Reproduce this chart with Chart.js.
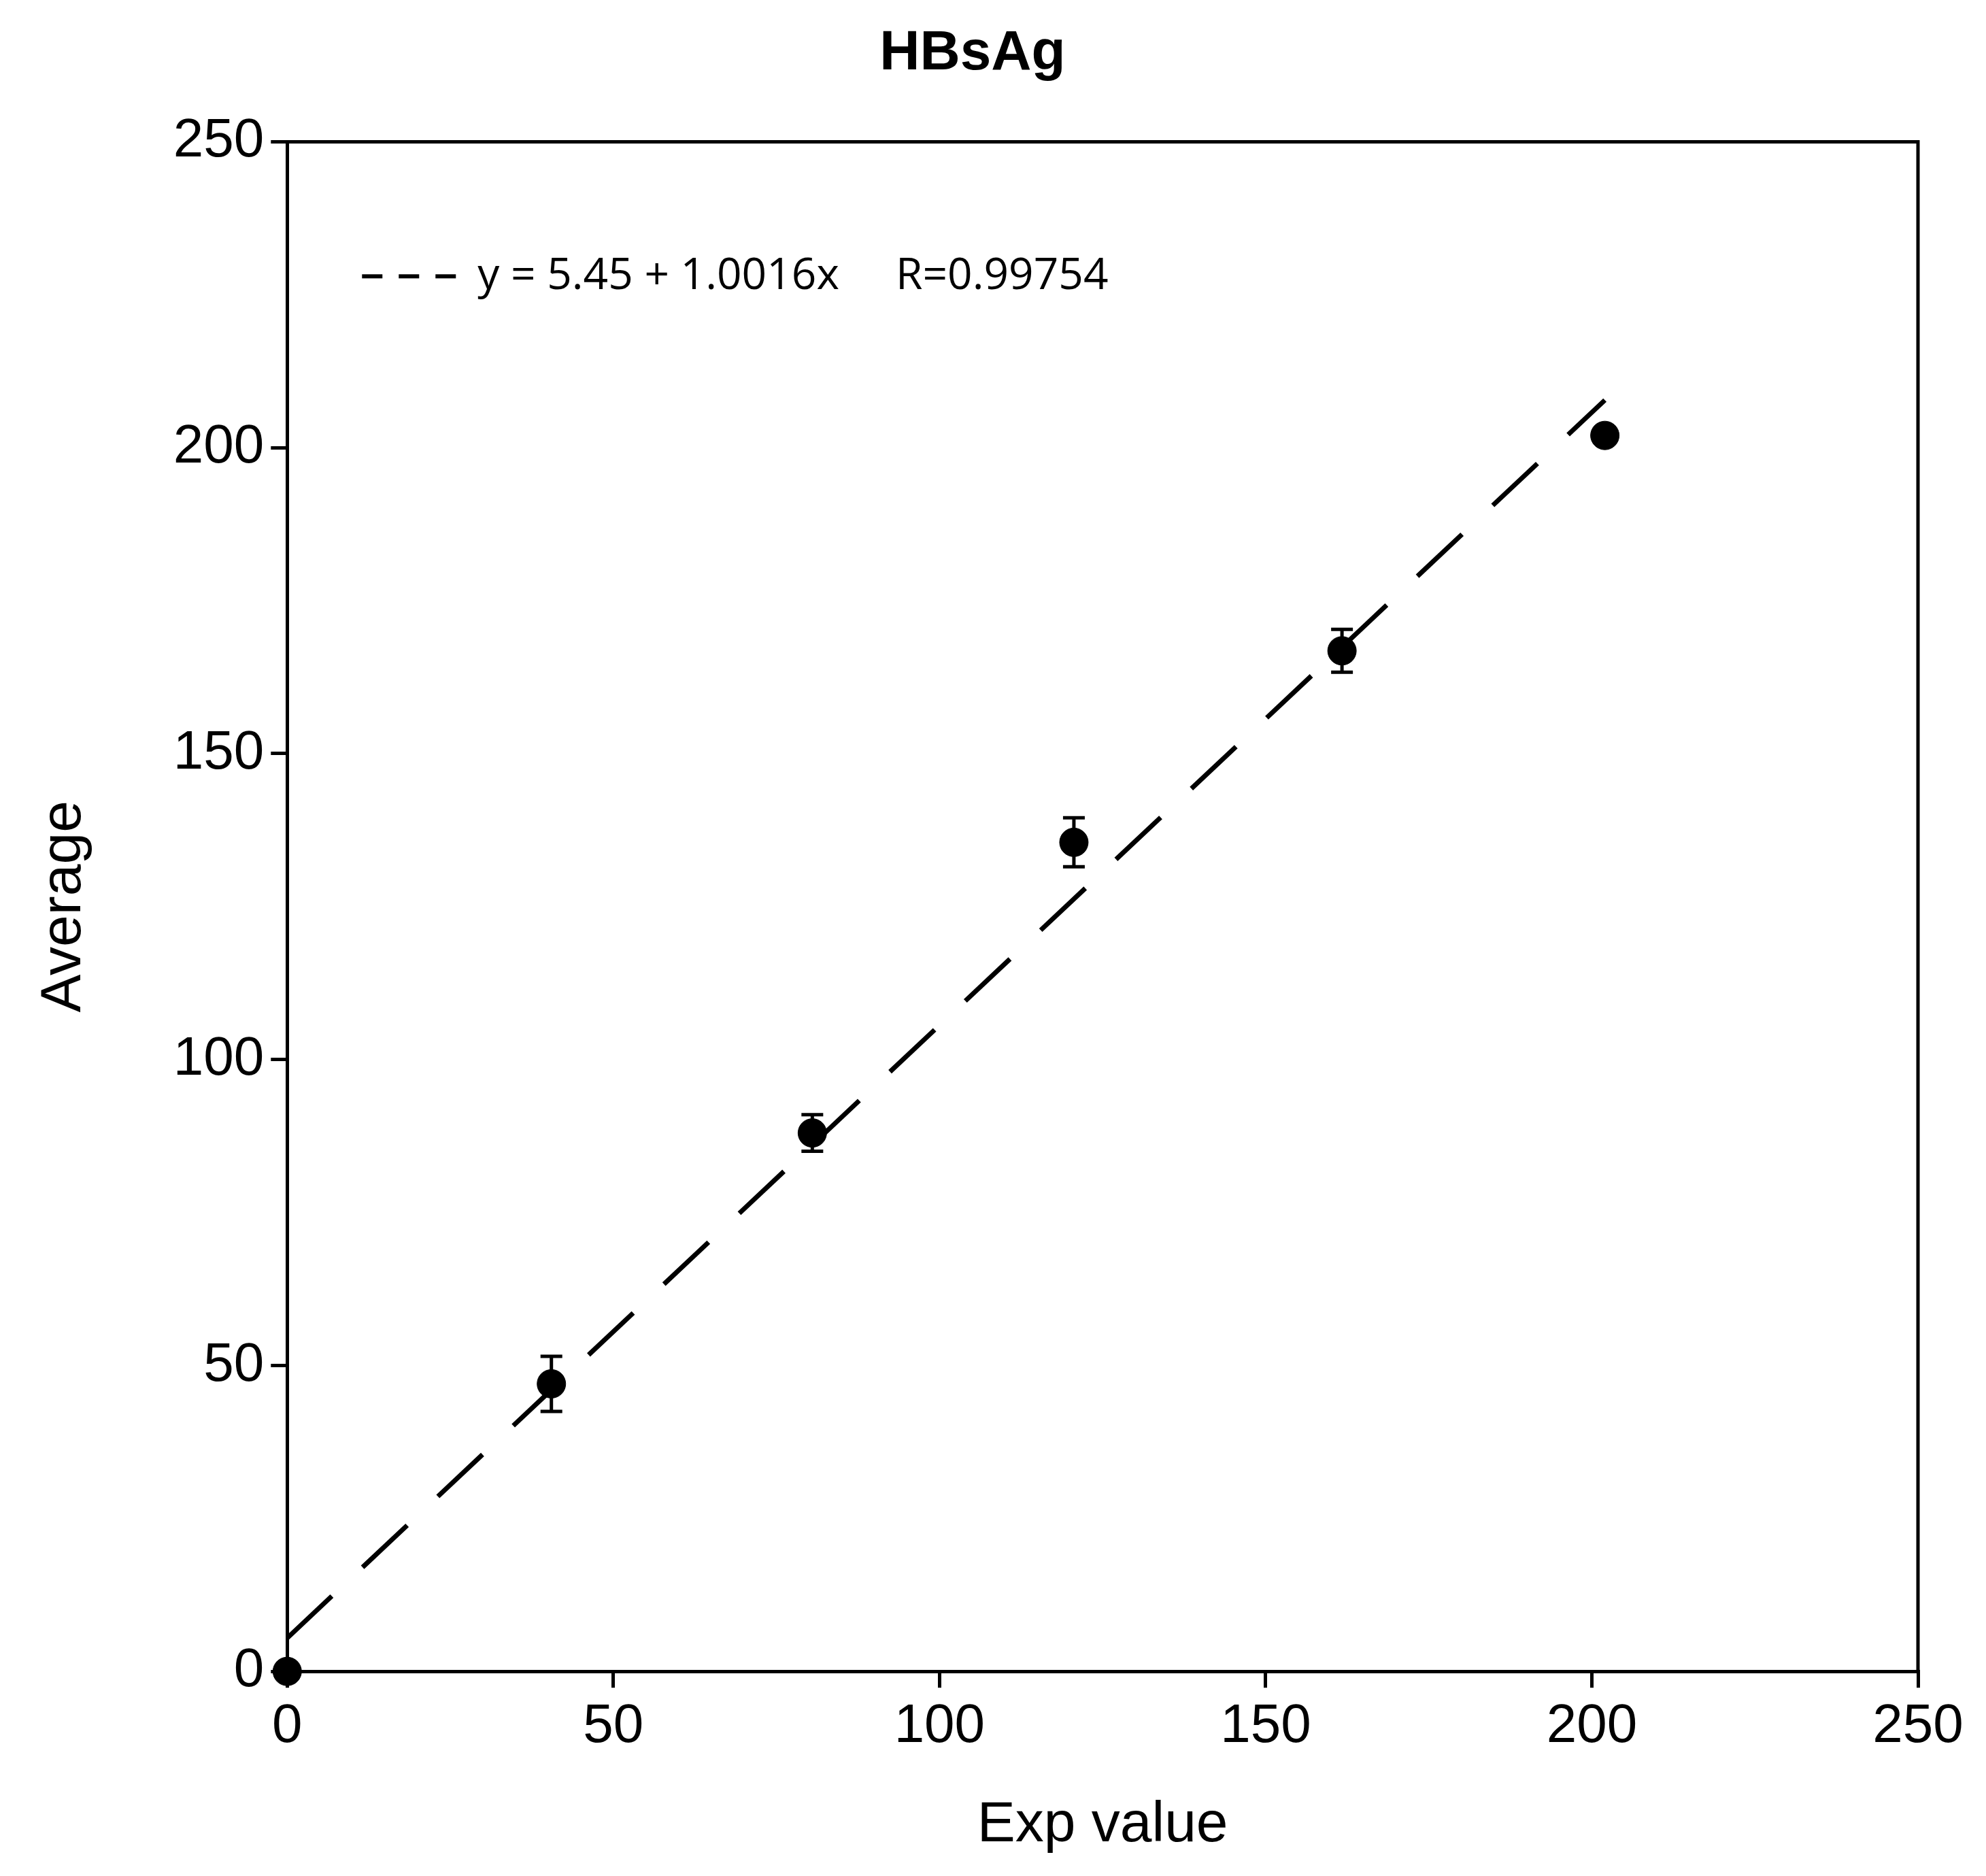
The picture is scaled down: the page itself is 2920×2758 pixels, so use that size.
<!DOCTYPE html>
<html>
<head>
<meta charset="utf-8">
<script src="https://cdn.jsdelivr.net/npm/chart.js@4"></script>
<style>
html, body { margin: 0; padding: 0; background: #fff; }
#wrap { width: 2920px; height: 2758px; }
</style>
</head>
<body>
<div id="wrap"><canvas id="chart"></canvas></div>
<script>
const expValues = [0, 40.5, 80.5, 120.6, 161.7, 202];
const averages = [0, 47, 88, 135.5, 166.8, 202];
const errors = [0, 4.5, 3, 4, 3.5, 0];
const fitX = [0, 202];
const fitIntercept = 5.45;
const fitSlope = 1.0016;
const legendText = 'y = 5.45 + 1.0016x     R=0.99754';

const puntos = expValues.map(function (x, i) { return { x: x, y: averages[i] }; });
const recta = fitX.map(function (x) { return { x: x, y: fitIntercept + fitSlope * x }; });

const extras = {
	id: 'extras',
	afterDatasetsDraw: function (chart) {
		const ctx = chart.ctx;
		const sx = chart.scales.x, sy = chart.scales.y;
		const a = chart.chartArea;
		ctx.save();
		ctx.strokeStyle = '#000';
		ctx.lineWidth = 5;
		// barras de error
		for (let i = 0; i < expValues.length; i++) {
			if (!errors[i]) continue;
			const px = sx.getPixelForValue(expValues[i]);
			const top = sy.getPixelForValue(averages[i] + errors[i]);
			const bot = sy.getPixelForValue(averages[i] - errors[i]);
			ctx.beginPath();
			ctx.moveTo(px, top); ctx.lineTo(px, bot);
			ctx.moveTo(px - 16, top); ctx.lineTo(px + 16, top);
			ctx.moveTo(px - 16, bot); ctx.lineTo(px + 16, bot);
			ctx.stroke();
		}
		// marco superior y derecho
		ctx.beginPath();
		ctx.moveTo(a.left, a.top); ctx.lineTo(a.right, a.top); ctx.lineTo(a.right, a.bottom);
		ctx.stroke();
		// leyenda
		const ly = sy.getPixelForValue(228);
		const lx = a.left + 110;
		ctx.setLineDash([30, 24]);
		ctx.lineWidth = 6;
		ctx.beginPath();
		ctx.moveTo(lx, ly); ctx.lineTo(lx + 138, ly);
		ctx.stroke();
		ctx.setLineDash([]);
		ctx.fillStyle = '#000';
		ctx.font = '64px "Open Sans"';
		ctx.textBaseline = 'middle';
		ctx.fillText(legendText, lx + 170, ly);
		ctx.restore();
	}
};

const ejeComun = {
	type: 'linear',
	min: 0,
	max: 250,
	border: { display: true, color: '#000', width: 5 },
	grid: { drawOnChartArea: false, drawTicks: true, tickLength: 24, color: '#000', lineWidth: 5 },
	ticks: { stepSize: 50, color: '#000', font: { family: 'Liberation Sans', size: 80 }, padding: 10 }
};

new Chart(document.getElementById('chart').getContext('2d'), {
	type: 'scatter',
	data: {
		datasets: [
			{
				data: recta,
				showLine: true,
				borderColor: '#000',
				borderWidth: 7,
				borderDash: [90, 62],
				pointRadius: 0
			},
			{
				data: puntos,
				backgroundColor: '#000',
				borderColor: '#000',
				pointRadius: 21,
				clip: false
			}
		]
	},
	options: {
		responsive: true,
		maintainAspectRatio: false,
		animation: false,
		layout: { padding: { left: 40, right: 100, top: 20, bottom: 20 } },
		plugins: {
			legend: { display: false },
			tooltip: { enabled: false },
			title: {
				display: true,
				text: 'HBsAg',
				color: '#000',
				font: { family: 'Liberation Sans', size: 82, weight: 'bold' },
				padding: { top: 10, bottom: 80 }
			}
		},
		scales: {
			x: Object.assign({}, ejeComun, {
				position: 'bottom',
				title: { display: true, text: 'Exp value', color: '#000', font: { family: 'Liberation Sans', size: 84 }, padding: { top: 36 } }
			}),
			y: Object.assign({}, ejeComun, {
				position: 'left',
				title: { display: true, text: 'Average', color: '#000', font: { family: 'Liberation Sans', size: 84 }, padding: { bottom: 100 } }
			})
		}
	},
	plugins: [extras]
});
</script>
</body>
</html>
